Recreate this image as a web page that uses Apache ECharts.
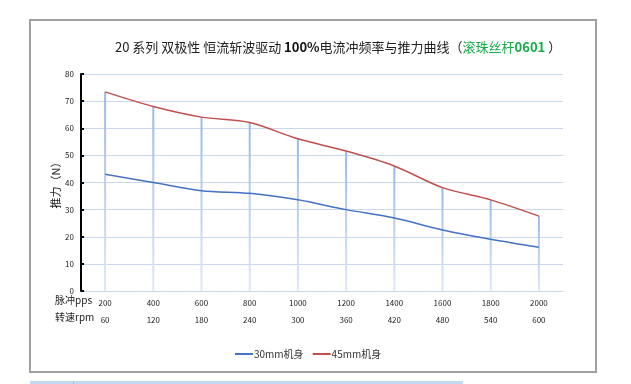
<!DOCTYPE html>
<html>
<head>
<meta charset="utf-8">
<script src="https://cdn.jsdelivr.net/npm/echarts@6/dist/echarts.min.js"></script>
<style>
html,body{margin:0;padding:0;background:#fff;}
#c{width:631px;height:384px;}
</style>
</head>
<body>
<div id="c"></div>
<script>
var pulsePps = ['200','400','600','800','1000','1200','1400','1600','1800','2000'];
var speedRpm = ['60','120','180','240','300','360','420','480','540','600'];
var force30 = [43.0, 40.0, 37.0, 36.0, 33.6, 30.0, 26.9, 22.5, 19.1, 16.1];
var force45 = [73.4, 68.0, 64.1, 62.1, 56.1, 51.6, 46.1, 38.1, 33.6, 27.6];
var yTicks = [0, 10, 20, 30, 40, 50, 60, 70, 80];
var seriesNames = ['30mm机身', '45mm机身'];

var FONT = '"Noto Sans CJK SC", "Noto Sans", sans-serif';
var chart = echarts.init(document.getElementById('c'), null, {renderer: 'canvas'});

var option = {
  backgroundColor: '#ffffff',
  animation: false,
  textStyle: {fontFamily: FONT},
  title: {
    left: 110,
    top: 36,
    text: '{n|20 系列 双极性 恒流斩波驱动 }{b|100%}{n|电流冲频率与推力曲线（}{g|滚珠丝杆}{gb|0601}{n| ）}',
    textStyle: {
      fontWeight: 'normal',
      rich: {
        n: {fontSize: 13, color: '#222', fontWeight: 'normal', fontFamily: FONT},
        b: {fontSize: 13, color: '#111', fontWeight: 'bold', fontFamily: FONT},
        g: {fontSize: 13, color: '#1aab4a', fontWeight: 'normal', fontFamily: FONT},
        gb: {fontSize: 13, color: '#1aab4a', fontWeight: 'bold', fontFamily: FONT}
      }
    }
  },
  legend: {
    data: seriesNames,
    left: 230,
    top: 344,
    itemWidth: 18,
    itemHeight: 2,
    itemGap: 9,
    icon: 'rect',
    textStyle: {fontSize: 10, color: '#333', fontFamily: FONT, padding: [0, 0, 0, -4]}
  },
  grid: {left: 81, right: 68, top: 74, bottom: 93, containLabel: false},
  xAxis: {
    type: 'category',
    data: pulsePps,
    boundaryGap: true,
    axisLine: {show: false},
    axisTick: {show: false},
    splitLine: {show: false},
    axisLabel: {
      margin: 3,
      interval: 0,
      formatter: function (v, i) { return '{a|' + v + '}\n{b|' + speedRpm[i] + '}'; },
      rich: {
        a: {fontSize: 8, color: '#222', lineHeight: 17, fontFamily: FONT},
        b: {fontSize: 8, color: '#222', lineHeight: 17, fontFamily: FONT}
      }
    }
  },
  yAxis: {
    type: 'value',
    min: yTicks[0],
    max: yTicks[yTicks.length - 1],
    interval: yTicks[1] - yTicks[0],
    name: '推力（N）',
    nameLocation: 'middle',
    nameGap: 20,
    nameRotate: 90,
    nameMoveOverlap: false,
    nameTextStyle: {fontSize: 11, color: '#222', fontFamily: FONT},
    axisLine: {show: true, lineStyle: {color: '#000', width: 2}},
    axisTick: {show: true, inside: true, length: 3, lineStyle: {color: '#000', width: 2}},
    axisLabel: {fontSize: 8, color: '#222', margin: 7, fontFamily: FONT},
    splitLine: {show: true, lineStyle: {color: '#c9d7ef', width: 1}}
  },
  series: [
    {
      name: 'drop',
      type: 'bar',
      data: force45,
      barWidth: 2,
      z: 1,
      silent: true,
      legendHoverLink: false,
      itemStyle: {
        color: new echarts.graphic.LinearGradient(0, 0, 0, 1, [
          {offset: 0, color: '#9db8e6'},
          {offset: 1, color: '#dfe8f6'}
        ])
      }
    },
    {
      name: seriesNames[0],
      type: 'line',
      data: force30,
      smooth: 0.3,
      showSymbol: false,
      z: 3,
      lineStyle: {color: '#4472c4', width: 1.5},
      itemStyle: {color: '#4472c4'}
    },
    {
      name: seriesNames[1],
      type: 'line',
      data: force45,
      smooth: 0.3,
      showSymbol: false,
      z: 3,
      lineStyle: {color: '#c0504d', width: 1.5},
      itemStyle: {color: '#c0504d'}
    }
  ],
  graphic: [
    {type: 'rect', shape: {x: 30, y: 20, width: 566, height: 352}, style: {fill: 'none', stroke: '#a0a0a0', lineWidth: 2}, z: -1},
    {type: 'text', left: 55, top: 295, style: {text: '脉冲pps', fontSize: 10, fill: '#222', fontFamily: FONT}},
    {type: 'text', left: 55, top: 312, style: {text: '转速rpm', fontSize: 10, fill: '#222', fontFamily: FONT}},
    {type: 'rect', shape: {x: 30, y: 381, width: 433, height: 3}, style: {fill: '#c5d9f1'}},
    {type: 'rect', shape: {x: 73, y: 381, width: 1, height: 3}, style: {fill: '#bbbbbb'}}
  ]
};
chart.setOption(option);
</script>
</body>
</html>
